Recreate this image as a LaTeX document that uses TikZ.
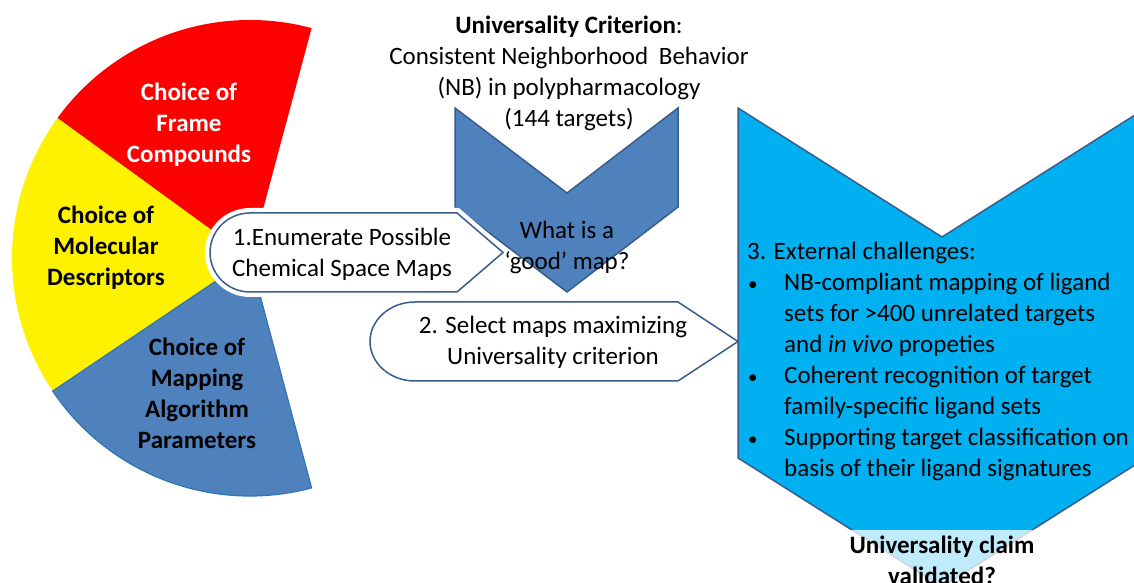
\documentclass[tikz,border=0pt]{standalone}
\usepackage{fontspec}
\setmainfont{Carlito}
\definecolor{wedgeblue}{HTML}{4F81BD}
\definecolor{edgeblue}{HTML}{385D8A}
\definecolor{cyanblue}{HTML}{00B0F0}
\definecolor{wedgeedge}{HTML}{2E75B6}
\newcommand{\bulitem}{\makebox[37pt][l]{\hspace{1pt}{\fontsize{19}{31}\selectfont\textbullet}}}
\newcommand{\indline}{\hspace*{37pt}}
\tikzset{
  txt/.style={font=\fontsize{25}{31}\selectfont, inner sep=0pt, align=center},
  wedgetxt/.style={txt, font=\fontsize{25}{31}\selectfont\bfseries},
  arrowbox/.style={fill=white, draw=edgeblue, line width=1.5pt},
  chev/.style={draw=edgeblue, line width=1.5pt},
}
\begin{document}
\begin{tikzpicture}[x=1pt,y=1pt]
\useasboundingbox (0,0) rectangle (1134,583);
\clip (0,0) rectangle (1134,583);
% fan wedges
\fill[red] (250,325) -- ++(75:238) arc[start angle=75,end angle=144,radius=238] -- cycle;
\fill[yellow] (250,325) -- ++(144:238) arc[start angle=144,end angle=214,radius=238] -- cycle;
\draw[fill=wedgeblue, draw=wedgeedge, line width=1.2pt] (250,325) -- ++(214:238) arc[start angle=214,end angle=285,radius=238] -- cycle;
% big cyan chevron
\draw[chev, fill=cyanblue] (738,475) -- (942,346) -- (1146,475) -- (1146,125) -- (942,-4) -- (738,125) -- cycle;
% middle chevron
\draw[chev, fill=wedgeblue] (455,475) -- (567,390) -- (678,475) -- (678,376) -- (567,291) -- (455,376) -- cycle;
% arrow 1 with white halo
\draw[white, line width=10pt] (250,370) -- (457,370) -- (503,330.5) -- (457,291) -- (250,291) arc[start angle=270, end angle=90, x radius=40, y radius=39.5] -- cycle;
\draw[arrowbox] (250,370) -- (457,370) -- (503,330.5) -- (457,291) -- (250,291) arc[start angle=270, end angle=90, x radius=40, y radius=39.5] -- cycle;
% arrow 2
\draw[arrowbox] (415,281) -- (678,281) -- (738,241.5) -- (678,202) -- (415,202) arc[start angle=270, end angle=90, x radius=45, y radius=39.5] -- cycle;
% bottom translucent box
\fill[white, opacity=0.75] (800,0) rectangle (1085,53);
% texts
\node[wedgetxt, text=white] (tred) at (189,458) {Choice of\\Frame\\Compounds};
\node[wedgetxt] (tyel) at (106,335) {Choice of\\Molecular\\Descriptors};
\node[wedgetxt] (tblu) at (197,190) {Choice of\\Mapping\\Algorithm\\Parameters};
\node[txt] (ttop) at (569,510) {\textbf{Universality Criterion}:\\Consistent Neighborhood\hspace{5pt} Behavior\\(NB) in polypharmacology\\(144 targets)};
\node[txt] (tgood) at (567,335.5) {What is a\\`good' map?};
\node[txt] (tenum) at (342,329) {1.Enumerate Possible\\Chemical Space Maps};
\node[txt] (tsel) at (553,241) {2. Select maps maximizing\\Universality criterion};
\node[txt, align=left] (text) at (747,222) [anchor=west] {3. External challenges:\\
\bulitem NB-compliant mapping of ligand\\
\indline sets for >400 unrelated targets\\
\indline and \textit{in vivo} propeties\\
\bulitem Coherent recognition of target\\
\indline family-specific ligand sets\\
\bulitem Supporting target classification on\\
\indline basis of their ligand signatures};
\node[txt, font=\fontsize{25}{31}\selectfont\bfseries] (tclaim) at (942,22.5) {Universality claim\\validated?};
\end{tikzpicture}
\end{document}
